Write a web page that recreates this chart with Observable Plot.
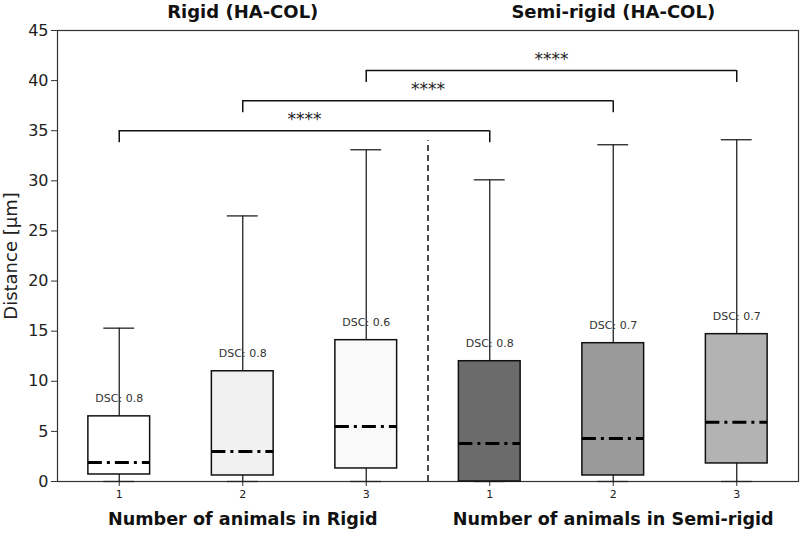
<!DOCTYPE html>
<html>
<head>
<meta charset="utf-8">
<script src="https://cdn.jsdelivr.net/npm/d3@7"></script>
<script src="https://cdn.jsdelivr.net/npm/@observablehq/plot@0.6"></script>
<style>
  html, body { margin: 0; padding: 0; background: #fff; }
  svg { font-family: "DejaVu Sans", Verdana, sans-serif; }
</style>
</head>
<body>
<div id="chart"></div>
<script>
// ---- Data ----
const groups = ["Rigid", "Rigid", "Rigid", "Semi-rigid", "Semi-rigid", "Semi-rigid"];
const animals = ["1", "2", "3", "1", "2", "3"];
const whiskerLow = [0, 0, 0, 0, 0, 0];
const q1 = [0.7, 0.6, 1.3, 0.0, 0.6, 1.8];
const medians = [1.9, 3.0, 5.5, 3.8, 4.3, 5.9];
const q3 = [6.5, 11.0, 14.1, 12.0, 13.8, 14.7];
const whiskerHigh = [15.3, 26.5, 33.1, 30.1, 33.6, 34.1];
const dscLabels = ["DSC: 0.8", "DSC: 0.8", "DSC: 0.6", "DSC: 0.8", "DSC: 0.7", "DSC: 0.7"];
const boxFills = ["#ffffff", "#f1f1f1", "#f9f9f9", "#6b6b6b", "#9a9a9a", "#b3b3b3"];

const groupTitles = ["Rigid (HA-COL)", "Semi-rigid (HA-COL)"];
const groupAxisLabels = ["Number of animals in Rigid", "Number of animals in Semi-rigid"];
const groupCenters = [2, 5];

const bracketFrom = [1, 2, 3];
const bracketTo = [4, 5, 6];
const bracketLevel = [35, 38, 41];
const bracketLeg = 1.2;
const bracketText = ["****", "****", "****"];

const yTicks = [0, 5, 10, 15, 20, 25, 30, 35, 40, 45];
const dividerTop = 34;

// ---- Tables ----
const boxes = groups.map((g, i) => ({
  pos: i + 1, group: g, animal: animals[i],
  lo: whiskerLow[i], q1: q1[i], med: medians[i], q3: q3[i], hi: whiskerHigh[i],
  dsc: dscLabels[i], fill: boxFills[i]
}));
const brackets = bracketFrom.map((a, i) => ({
  a, b: bracketTo[i], y: bracketLevel[i], yl: bracketLevel[i] - bracketLeg,
  mid: (a + bracketTo[i]) / 2, text: bracketText[i]
}));
const bracketLegs = brackets.flatMap(d => [{x: d.a, y1: d.yl, y2: d.y}, {x: d.b, y1: d.yl, y2: d.y}]);
const titles = groupTitles.map((t, i) => ({x: groupCenters[i], t, xl: groupAxisLabels[i]}));

const BW = 0.25, CW = 0.125;

const chart = Plot.plot({
  width: 800,
  height: 533,
  marginLeft: 57,
  marginRight: 2,
  marginTop: 30,
  marginBottom: 52,
  style: {fontFamily: "DejaVu Sans, Verdana, sans-serif", background: "#fff", color: "#222"},
  x: {domain: [0.5, 6.5], label: null},
  y: {domain: [0, 45], label: null},
  marks: [
    Plot.axisY({ticks: yTicks, tickSize: 6, fontSize: 16, tickPadding: 3, label: null, stroke: "#333"}),
    Plot.axisX({ticks: [1, 2, 3, 4, 5, 6], tickFormat: d => animals[d - 1], tickSize: 5, fontSize: 11, tickPadding: 4, label: null, stroke: "#333"}),
    Plot.frame({stroke: "#333", strokeWidth: 1.2}),
    // whiskers
    Plot.ruleX(boxes, {x: "pos", y1: "lo", y2: "hi", stroke: "#222", strokeWidth: 1.3}),
    Plot.ruleY(boxes, {y: "hi", x1: d => d.pos - CW, x2: d => d.pos + CW, stroke: "#222", strokeWidth: 1.3}),
    Plot.ruleY(boxes, {y: "lo", x1: d => d.pos - CW, x2: d => d.pos + CW, stroke: "#222", strokeWidth: 1.3}),
    // boxes
    Plot.rect(boxes, {x1: d => d.pos - BW, x2: d => d.pos + BW, y1: "q1", y2: "q3", fill: "fill", stroke: "#111", strokeWidth: 1.5}),
    // medians
    Plot.ruleY(boxes, {y: "med", x1: d => d.pos - BW, x2: d => d.pos + BW, stroke: "#000", strokeWidth: 3, strokeDasharray: "14,5,3,5"}),
    // DSC labels
    Plot.text(boxes, {x: "pos", y: "q3", text: "dsc", dy: -18, fontSize: 11, fill: "#333"}),
    // divider
    Plot.ruleX([3.5], {y1: 0, y2: dividerTop, stroke: "#111", strokeWidth: 1.5, strokeDasharray: "6,4"}),
    // significance brackets
    Plot.ruleY(brackets, {y: "y", x1: "a", x2: "b", stroke: "#111", strokeWidth: 1.5}),
    Plot.ruleX(bracketLegs, {x: "x", y1: "y1", y2: "y2", stroke: "#111", strokeWidth: 1.5}),
    Plot.text(brackets, {x: "mid", y: "y", text: "text", dy: -11, fontSize: 17, fill: "#222"}),
    // group titles and axis labels
    Plot.text(titles, {x: "x", y: 45, text: "t", dy: -18, fontSize: 18, fontWeight: "bold", fill: "#111"}),
    Plot.text(titles, {x: "x", y: 0, text: "xl", dy: 38, fontSize: 17.6, fontWeight: "bold", fill: "#111"}),
    // y label
    Plot.text(["Distance [μm]"], {frameAnchor: "left", textAnchor: "middle", rotate: -90, dx: -46, fontSize: 18, fill: "#222"})
  ]
});
document.getElementById("chart").appendChild(chart);
</script>
</body>
</html>
